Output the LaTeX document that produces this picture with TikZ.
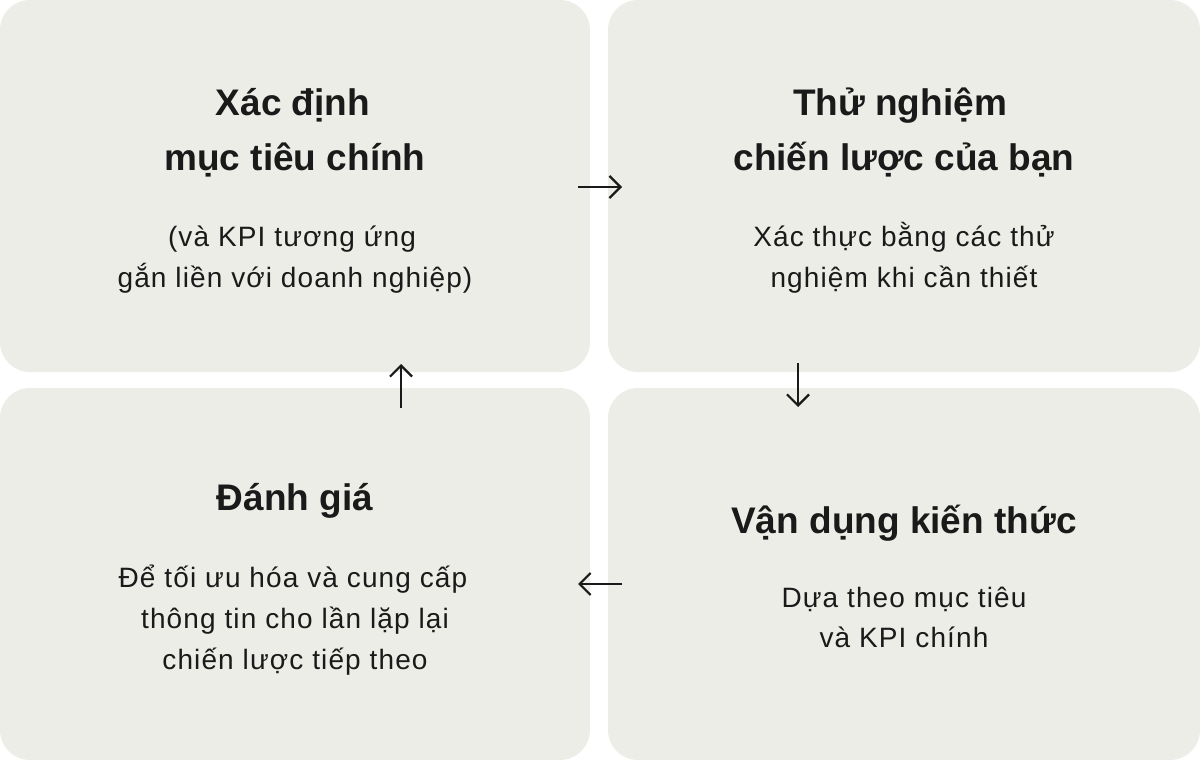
\documentclass[tikz,border=0pt]{standalone}
\usepackage{fontspec}
\setmainfont{Liberation Sans}
\usetikzlibrary{arrows.meta}
\definecolor{boxfill}{HTML}{EDEDE8}
\definecolor{ink}{HTML}{1A1A1A}
\tikzset{
  panel/.style={fill=boxfill, draw=none, rounded corners=30pt, inner sep=0pt, outer sep=0pt, minimum width=590pt, minimum height=372pt},
  titletext/.style={anchor=base, inner sep=0pt, text=ink, font=\fontsize{37}{44}\selectfont\bfseries},
  bodytext/.style={anchor=base, inner sep=0pt, text=ink, font=\fontsize{28}{32}\selectfont\addfontfeatures{LetterSpace=4}},
  flow/.style={draw=ink, line width=2.2pt, -{Straight Barb[length=11pt,width=22pt,line width=2.2pt]}}
}
\begin{document}
\begin{tikzpicture}[x=1pt,y=-1pt]
\useasboundingbox (0,0) rectangle (1200,760);
\node[panel] (tl) at (295,186) {};
\node[panel, minimum width=592pt] (tr) at (904,186) {};
\node[panel] (bl) at (295,574) {};
\node[panel, minimum width=592pt] (br) at (904,574) {};

\node[titletext] (tla) at (293,115) {Xác định};
\node[titletext] (tlb) at (295,170) {mục tiêu chính};
\node[bodytext] (tlc) at (292,246) {(và KPI tương ứng};
\node[bodytext] (tld) at (295,287) {gắn liền với doanh nghiệp)};

\node[titletext] (tra) at (900,115) {Thử nghiệm};
\node[titletext] (trb) at (904,170) {chiến lược của bạn};
\node[bodytext] (trc) at (904,246) {Xác thực bằng các thử};
\node[bodytext] (trd) at (904,287) {nghiệm khi cần thiết};

\node[titletext] (bla) at (295,510) {Đánh giá};
\node[bodytext] (blb) at (293,587) {Để tối ưu hóa và cung cấp};
\node[bodytext] (blc) at (295,628) {thông tin cho lần lặp lại};
\node[bodytext] (bld) at (295,669) {chiến lược tiếp theo};

\node[titletext] (bra) at (904,533) {Vận dụng kiến thức};
\node[bodytext] (brb) at (904,607) {Dựa theo mục tiêu};
\node[bodytext] (brc) at (904,647) {và KPI chính};

\draw[flow, shorten <=-12pt, shorten >=-14pt] ([yshift=-1pt]tl.east) -- ([yshift=-1pt]tr.west);
\draw[flow, shorten <=-9pt, shorten >=-19pt] ([xshift=-106pt]tr.south) -- ([xshift=-106pt]br.north);
\draw[flow, shorten <=-14pt, shorten >=-12pt] ([yshift=-10pt]br.west) -- ([yshift=-10pt]bl.east);
\draw[flow, shorten <=-20pt, shorten >=-8pt] ([xshift=106pt]bl.north) -- ([xshift=106pt]tl.south);
\end{tikzpicture}
\end{document}
